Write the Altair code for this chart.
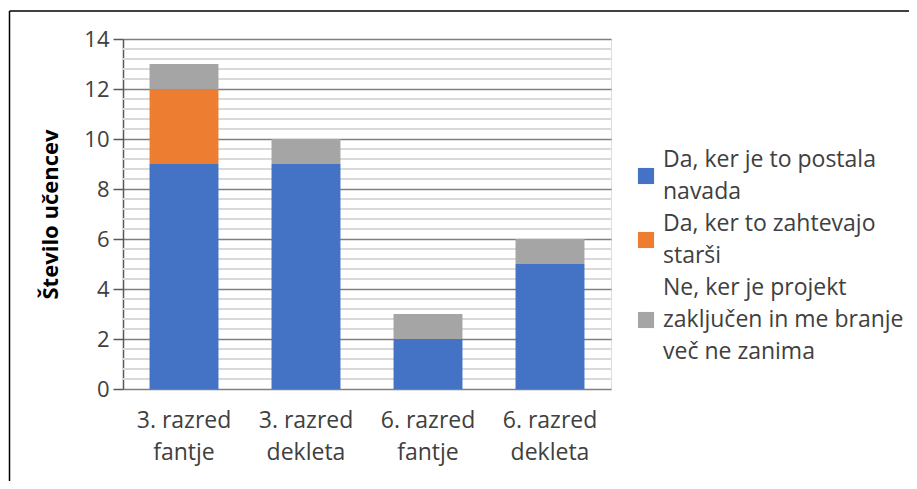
import altair as alt
import pandas as pd

categories = ["3. razred fantje", "3. razred dekleta", "6. razred fantje", "6. razred dekleta"]
series = ["Da, ker je to postala navada", "Da, ker to zahtevajo starši",
          "Ne, ker je projekt zaključen in me branje več ne zanima"]
series_lines = [["Da, ker je to postala", "navada"],
                ["Da, ker to zahtevajo", "starši"],
                ["Ne, ker je projekt", "zaključen in me branje", "več ne zanima"]]
values = {
    series[0]: [9, 9, 2, 5],
    series[1]: [3, 0, 0, 0],
    series[2]: [1, 1, 1, 1],
}
colors = ["#4472C4", "#ED7D31", "#A5A5A5"]
y_ticks = [0, 2, 4, 6, 8, 10, 12, 14]
minor_ticks = [round(i * 0.4, 1) for i in range(36) if round(i * 0.4, 1) not in y_ticks]

rows = []
for si, s in enumerate(series):
    for ci, c in enumerate(categories):
        rows.append({"kategorija": c, "odgovor": s, "vrednost": values[s][ci], "red": si})
df = pd.DataFrame(rows)
minor_df = pd.DataFrame({"y": minor_ticks})

# legend tables (one row per text line, one row per swatch)
leg_lines, leg_sw = [], []
k = 0
for s, lines in zip(series, series_lines):
    idx = []
    for l in lines:
        leg_lines.append({"vrstica": k, "besedilo": l})
        idx.append(k)
        k += 1
    leg_sw.append({"odgovor": s, "vrstica": sum(idx) / len(idx)})
leg_lines_df = pd.DataFrame(leg_lines)
leg_sw_df = pd.DataFrame(leg_sw)
n_lines = k - 1

FONT = "Open Sans"
color_scale = alt.Scale(domain=series, range=colors)
leg_scale = alt.Scale(domain=[0, n_lines], range=[121, 313])

minor = alt.Chart(minor_df).mark_rule(color="#D9D9D9", strokeWidth=2).encode(
    y=alt.Y("y:Q", scale=alt.Scale(domain=[0, 14]), axis=None)
)

bars = alt.Chart(df).mark_bar().encode(
    x=alt.X("kategorija:N", sort=categories, title=None,
            scale=alt.Scale(paddingInner=0.435, paddingOuter=0.2175),
            axis=alt.Axis(labelAngle=0, ticks=False, domain=False,
                          labelExpr="[slice(datum.label,0,9), slice(datum.label,10)]",
                          labelFontSize=23, labelLineHeight=32, labelPadding=20,
                          labelColor="#404040", labelFont=FONT)),
    y=alt.Y("vrednost:Q", stack="zero", title="Število učencev",
            scale=alt.Scale(domain=[0, 14], nice=False),
            axis=alt.Axis(values=y_ticks, grid=True, gridColor="#808080", gridWidth=1.5,
                          domainColor="#595959", domainWidth=1.5,
                          tickColor="#595959", tickSize=10, tickWidth=1.5,
                          labelFontSize=22, labelColor="#404040", labelFont=FONT,
                          labelPadding=4,
                          titleFontSize=22, titleFont=FONT, titleFontWeight="bold",
                          titleColor="#000000", titleX=-73, titleY=175,
                          titleBaseline="middle")),
    color=alt.Color("odgovor:N", sort=series, scale=color_scale, legend=None),
    order=alt.Order("red:Q"),
)

legend_text = alt.Chart(leg_lines_df).mark_text(
    align="left", baseline="middle", font=FONT, fontSize=23, color="#404040"
).encode(
    x=alt.value(540),
    y=alt.Y("vrstica:Q", scale=leg_scale, axis=None),
    text="besedilo:N",
)

legend_sw = alt.Chart(leg_sw_df).mark_square(size=260, opacity=1, strokeWidth=0).encode(
    x=alt.value(523),
    y=alt.Y("vrstica:Q", scale=leg_scale, axis=None),
    color=alt.Color("odgovor:N", scale=color_scale, legend=None),
)

border_top = alt.Chart(pd.DataFrame({"a": [0]})).mark_rule(color="#000000", strokeWidth=1.5).encode(
    x=alt.value(-113.5), x2=alt.value(900), y=alt.value(-28)
)
border_left = alt.Chart(pd.DataFrame({"a": [0]})).mark_rule(color="#000000", strokeWidth=1.5).encode(
    x=alt.value(-113.5), y=alt.value(-28), y2=alt.value(500)
)

chart = alt.layer(minor, bars, legend_sw, legend_text, border_top, border_left).resolve_scale(
    y="independent"
).properties(
    width=488, height=350,
    autosize=alt.AutoSizeParams(type="none"),
    padding={"left": 115, "top": 31, "right": 298, "bottom": 92},
).configure_view(stroke="#D9D9D9", strokeWidth=1.5).configure(background="#ffffff")

chart.save("out.html", embed_options={"renderer": "svg", "actions": False})
